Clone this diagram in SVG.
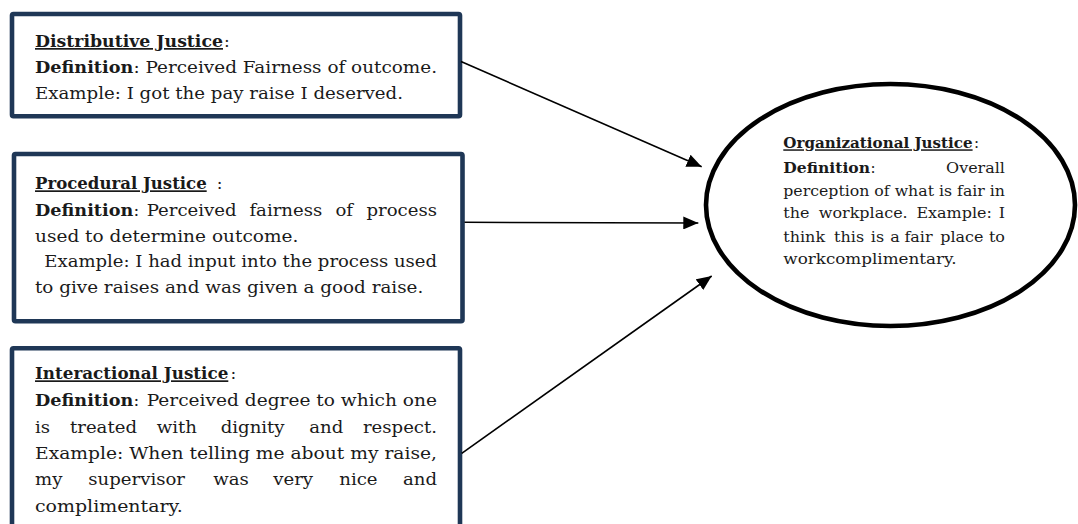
<svg xmlns="http://www.w3.org/2000/svg" width="1078" height="524" viewBox="0 0 1078 524">
<style>
.box{fill:#ffffff;stroke:#1f3756;stroke-width:4.6}
.t{font-family:"DejaVu Serif","Liberation Serif",serif;font-size:17px;fill:#1a1a1a}
.s{font-size:15px}
.b{font-weight:bold}
.u{text-decoration:underline}
.e{text-anchor:end}
.conn{stroke:#000000;stroke-width:1.6;fill:none;marker-end:url(#ah)}
</style>
<defs>
<marker id="ah" markerUnits="userSpaceOnUse" markerWidth="16" markerHeight="13" refX="15" refY="6.5" orient="auto">
<path d="M0,0 L15,6.5 L0,13 z" fill="#000000"/>
</marker>
</defs>
<rect width="1078" height="524" fill="#ffffff"/>
<g id="node-distributive">
<rect class="box" x="12" y="14" width="448" height="102.3" rx="1.5"/>
<text class="t b u" x="35" y="47" textLength="188" lengthAdjust="spacingAndGlyphs">Distributive Justice</text>
<text class="t" x="224" y="47">:</text>
<text class="t b" x="35" y="73" textLength="98.3" lengthAdjust="spacingAndGlyphs">Definition</text>
<text class="t" x="133.5" y="73" textLength="303.5" lengthAdjust="spacingAndGlyphs">: Perceived Fairness of outcome.</text>
<text class="t" x="35" y="99" textLength="368" lengthAdjust="spacingAndGlyphs">Example: I got the pay raise I deserved.</text>
</g>
<g id="node-procedural">
<rect class="box" x="14" y="154" width="448.5" height="167.3" rx="1.5"/>
<text class="t b u" x="35" y="189.3" textLength="171.7" lengthAdjust="spacingAndGlyphs">Procedural Justice</text>
<text class="t" x="216.7" y="189.3">:</text>
<text class="t b" x="35" y="216" textLength="98.3" lengthAdjust="spacingAndGlyphs">Definition</text>
<text class="t" x="133.5" y="216">:</text>
<text class="t" y="216" transform="scale(1.065,1)"><tspan x="137.75">Perceived</tspan><tspan x="234.2">fairness</tspan><tspan x="315">of</tspan></text>
<text class="t e" x="410.33" y="216" transform="scale(1.065,1)">process</text>
<text class="t" x="35" y="241.7" textLength="263.3" lengthAdjust="spacingAndGlyphs">used to determine outcome.</text>
<text class="t" x="44.3" y="267.3" textLength="392.7" lengthAdjust="spacingAndGlyphs">Example: I had input into the process used</text>
<text class="t" x="35" y="293.3" textLength="388.3" lengthAdjust="spacingAndGlyphs">to give raises and was given a good raise.</text>
</g>
<g id="node-interactional">
<rect class="box" x="12" y="348.3" width="448" height="200" rx="1.5"/>
<text class="t b u" x="35" y="379.3" textLength="193.3" lengthAdjust="spacingAndGlyphs">Interactional Justice</text>
<text class="t" x="230.5" y="379.3">:</text>
<text class="t b" x="35" y="406.3" textLength="98.3" lengthAdjust="spacingAndGlyphs">Definition</text>
<text class="t" x="133.5" y="406.3">:</text>
<text class="t" x="146.7" y="406.3" textLength="290.3" lengthAdjust="spacingAndGlyphs">Perceived degree to which one</text>
<text class="t" y="432.7" transform="scale(1.065,1)"><tspan x="32.86">is</tspan><tspan x="65.73">treated</tspan><tspan x="147.14">with</tspan><tspan x="207.23">dignity</tspan><tspan x="290.42">and</tspan></text>
<text class="t e" x="410.33" y="432.7" transform="scale(1.065,1)">respect.</text>
<text class="t" x="35" y="459.3" textLength="402" lengthAdjust="spacingAndGlyphs">Example: When telling me about my raise,</text>
<text class="t" y="485.5" transform="scale(1.065,1)"><tspan x="32.86">my</tspan><tspan x="82.91">supervisor</tspan><tspan x="200.28">was</tspan><tspan x="256.62">very</tspan><tspan x="318.59">nice</tspan></text>
<text class="t e" x="410.33" y="485.5" transform="scale(1.065,1)">and</text>
<text class="t" x="35" y="511.7" textLength="147.7" lengthAdjust="spacingAndGlyphs">complimentary.</text>
</g>
<g id="node-organizational">
<ellipse cx="890.5" cy="205" rx="184.5" ry="121" fill="#ffffff" stroke="#000000" stroke-width="4.6"/>
<text class="t s b u" x="783.3" y="148.3" textLength="189.3" lengthAdjust="spacingAndGlyphs">Organizational Justice</text>
<text class="t s" x="974" y="148.3">:</text>
<text class="t s b" x="783.3" y="172.7" textLength="86.7" lengthAdjust="spacingAndGlyphs">Definition</text>
<text class="t s" x="870.5" y="172.7">:</text>
<text class="t s e" x="943.66" y="172.7" transform="scale(1.065,1)">Overall</text>
<text class="t s" x="783.3" y="196" textLength="221.7" lengthAdjust="spacingAndGlyphs">perception of what is fair in</text>
<text class="t s" y="218.3" transform="scale(1.065,1)"><tspan x="735.5">the</tspan><tspan x="768.8">workplace.</tspan><tspan x="860.5">Example:</tspan></text>
<text class="t s e" x="943.66" y="218.3" transform="scale(1.065,1)">I</text>
<text class="t s" y="241.7" transform="scale(1.065,1)"><tspan x="735.5">think</tspan><tspan x="783.2">this</tspan><tspan x="817.7">is</tspan><tspan x="835.9">a</tspan><tspan x="849.2">fair</tspan><tspan x="882.9">place</tspan></text>
<text class="t s e" x="943.66" y="241.7" transform="scale(1.065,1)">to</text>
<text class="t s" x="783.3" y="264" textLength="173.3" lengthAdjust="spacingAndGlyphs">workcomplimentary.</text>
</g>
<g id="connectors">
<line class="conn" x1="461" y1="61.5" x2="701.7" y2="166.7"/>
<line class="conn" x1="464.5" y1="222.3" x2="698.3" y2="223"/>
<line class="conn" x1="461.7" y1="453.3" x2="711.7" y2="276"/>
</g>
</svg>
